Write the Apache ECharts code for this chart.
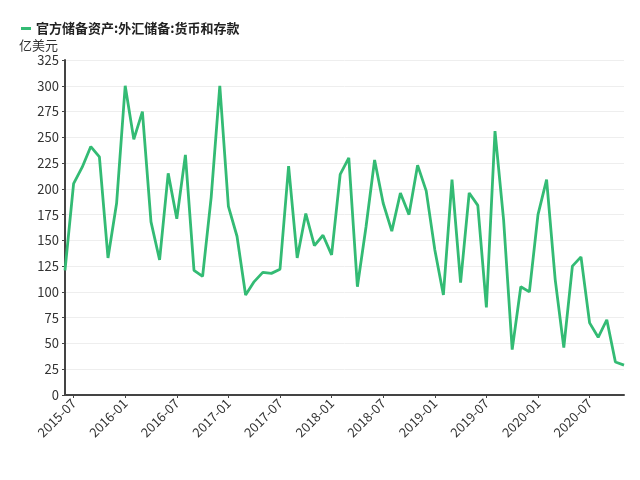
<!DOCTYPE html>
<html>
<head>
<meta charset="utf-8">
<script src="https://cdn.jsdelivr.net/npm/echarts@6/dist/echarts.min.js"></script>
<style>html,body{margin:0;padding:0;background:#fff}#c{width:640px;height:480px}</style>
</head>
<body>
<div id="c"></div>
<script>
const seriesName = '官方储备资产:外汇储备:货币和存款';
const unitName = '亿美元';
const months = [];
for (let y = 2015, m = 6; months.length < 66; ) {
  months.push(y + '-' + (m < 10 ? '0' + m : '' + m));
  m++; if (m > 12) { m = 1; y++; }
}
const values = [
  121, 205, 221, 241, 231, 133, 186, 300, 248, 275, 168, 131,
  215, 171, 233, 121, 115, 192, 300, 183, 154, 97, 110, 119,
  118, 122, 222, 133, 176, 145, 155, 136, 214, 230, 105, 163,
  228, 186, 159, 196, 175, 223, 198, 141, 97, 209, 109, 196,
  184, 85, 256, 170, 44, 105, 100, 175, 209, 112, 46, 125,
  134, 70, 56, 73, 32, 29
];
const yTicks = { min: 0, max: 325, interval: 25 };
const showMonth = (i) => /-(01|07)$/.test(months[i]);

const chart = echarts.init(document.getElementById('c'), null, { renderer: 'canvas' });
chart.setOption({
  animation: false,
  textStyle: { fontFamily: '"Noto Sans CJK SC", "Noto Sans", sans-serif' },
  legend: {
    left: 16, top: 17,
    itemWidth: 10, itemHeight: 3,
    icon: 'rect',
    itemGap: 6,
    textStyle: { fontSize: 13, fontWeight: 'bold', color: '#222' },
    data: [seriesName]
  },
  grid: { left: 65, right: 16, top: 60, bottom: 85 },
  xAxis: {
    type: 'category',
    data: months,
    boundaryGap: false,
    axisLine: { lineStyle: { color: '#444', width: 2 } },
    axisTick: { interval: (i) => showMonth(i), length: 3, lineStyle: { color: '#444' } },
    axisLabel: { interval: (i) => showMonth(i), rotate: 45, fontSize: 13, color: '#333', margin: 6 },
    splitLine: { show: false }
  },
  yAxis: {
    type: 'value',
    name: unitName,
    nameLocation: 'end',
    nameGap: 8,
    nameTextStyle: { fontSize: 13, color: '#333', align: 'right', padding: [0, 7, 0, 0] },
    min: yTicks.min, max: yTicks.max, interval: yTicks.interval,
    axisLine: { show: true, lineStyle: { color: '#444', width: 2 } },
    axisTick: { show: true, length: 3, lineStyle: { color: '#444' } },
    axisLabel: { fontSize: 13, color: '#333', margin: 6 },
    splitLine: { lineStyle: { color: '#eee' } }
  },
  series: [{
    name: seriesName,
    type: 'line',
    data: values,
    showSymbol: false,
    symbol: 'none',
    lineStyle: { color: '#33bb74', width: 2.8 },
    itemStyle: { color: '#33bb74' }
  }]
});
</script>
</body>
</html>
